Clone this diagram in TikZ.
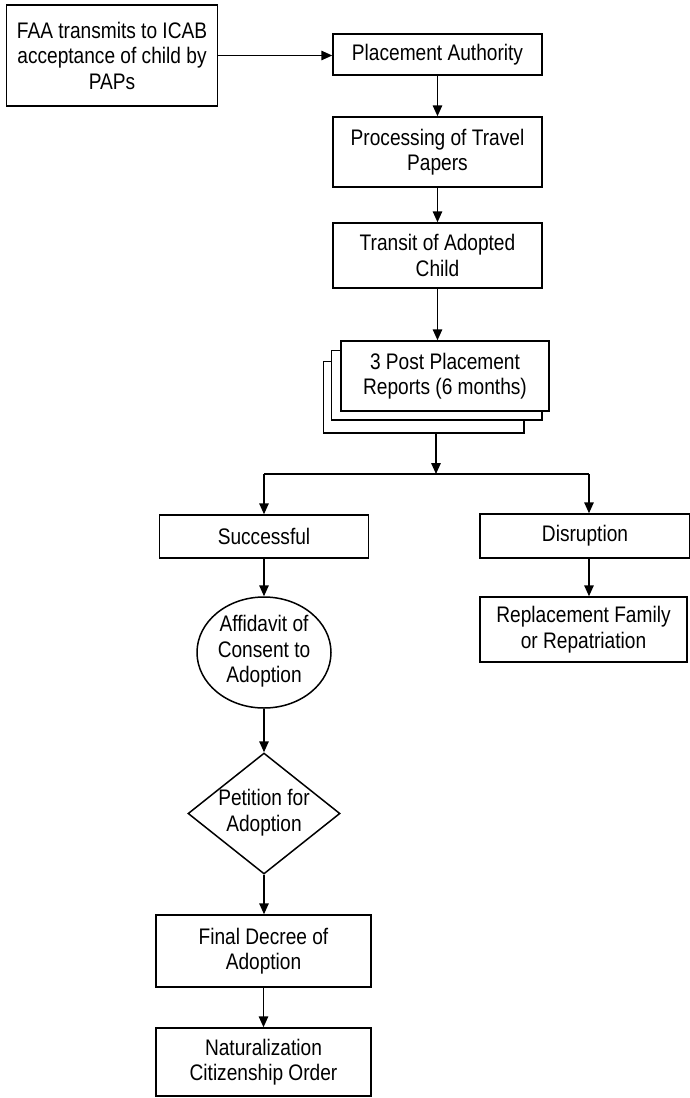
\documentclass[tikz,border=0pt]{standalone}
\usepackage{fontspec}
\setmainfont{Liberation Sans}[FakeStretch=0.85]
\usetikzlibrary{arrows.meta,shapes.geometric,calc}

% text that keeps its own size out of the shape around it
\newcommand{\freetext}[2][0pt]{\smash{\makebox[0pt]{\raisebox{#1}{\begin{tabular}{@{}c@{}}#2\end{tabular}}}}}

\begin{document}
\begin{tikzpicture}[x=1pt,y=-1pt,
  line width=1.5pt,
  every node/.style={font=\fontsize{22.5}{25.5}\selectfont},
  box/.style={draw, rectangle, align=center, inner sep=0pt},
  arr/.style={-{Triangle[length=11pt,width=9.5pt]}},
]
\useasboundingbox (0,0) rectangle (689,1098);

% upper column
\node[box, minimum width=211pt, minimum height=101pt] (faa) at (112,55.5)
  {FAA transmits to ICAB\\acceptance of child by\\PAPs};
\node[box, minimum width=209pt, minimum height=41pt] (pa) at (437.5,54.5)
  {Placement Authority};
\node[box, minimum width=209pt, minimum height=70pt] (proc) at (437.5,152)
  {Processing of Travel\\Papers};
\node[box, minimum width=209pt, minimum height=65pt] (trans) at (437.5,255.5)
  {Transit of Adopted\\Child};

% stack of report pages
\node[box, minimum width=208pt, minimum height=70pt] (rep) at (445,376)
  {3 Post Placement\\Reports (6 months)};
\draw ($(rep.north west)+(0,10)$) -- ++(-9,0) |- ($(rep.south east)+(-8,8)$) -- ++(0,-8);
\draw ($(rep.north west)+(-9,21)$) -- ++(-8,0) |- ($(rep.south east)+(-26,21)$) -- ++(0,-13);
\coordinate (stackout) at ($(rep.south)+(-9,21)$);
\coordinate (split) at (436,474);
\coordinate (jR) at (589,474);

% branches
\node[box, minimum width=209pt, minimum height=43pt] (succ) at (264,536.5)
  {Successful};
\node[box, minimum width=210pt, minimum height=44pt] (disr) at (585,536)
  {Disruption};
\node[box, minimum width=207pt, minimum height=65pt] (repl) at (583.5,629.5)
  {Replacement Family\\or Repatriation};

\node[draw, ellipse, inner sep=0pt, minimum width=134pt, minimum height=111pt] (aff) at (264,652.5)
  {\freetext[-5pt]{Affidavit of\\Consent to\\Adoption}};
\node[draw, diamond, inner sep=0pt, minimum width=152pt, minimum height=121pt] (pet) at (264,813.5)
  {\freetext[-5pt]{Petition for\\Adoption}};
\node[box, minimum width=215pt, minimum height=72pt] (fin) at (263.5,951)
  {Final Decree of\\Adoption};
\node[box, minimum width=215pt, minimum height=68pt] (nat) at (263.5,1062)
  {Naturalization\\Citizenship Order};

% connectors
\draw[arr] (faa.east) -- (faa.east -| pa.west);
\draw[arr] (pa.south) -- (proc.north);
\draw[arr] (proc.south) -- (trans.north);
\draw[arr] (trans.south) -- (trans.south |- rep.north);
\draw[arr] (stackout) -- (split);
\draw (succ.north |- split) -- (jR);
\draw[arr] (succ.north |- split) -- (succ.north);
\draw[arr] (jR) -- (jR |- disr.north);
\draw[arr] (jR |- disr.south) -- (jR |- repl.north);
\draw[arr] (succ.south) -- (aff.north);
\draw[arr] (aff.south) -- (pet.north);
\draw[arr] (pet.south) -- (pet.south |- fin.north);
\draw[arr] (fin.south) -- (nat.north);
\end{tikzpicture}
\end{document}
